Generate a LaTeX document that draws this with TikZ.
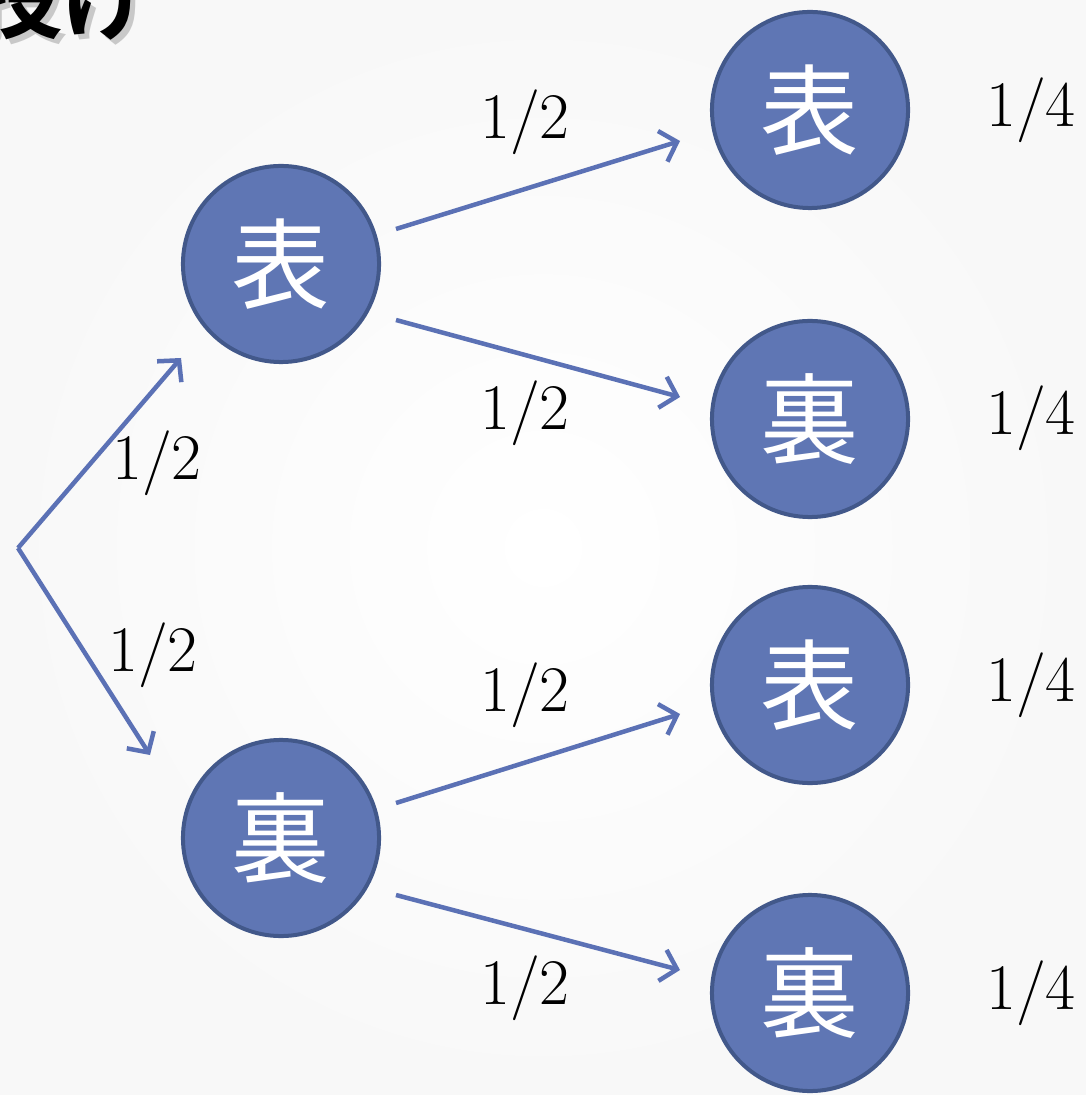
\documentclass[tikz,border=0pt]{standalone}
\usepackage{fontspec}
\newfontfamily\cjk{Noto Sans CJK JP}[BoldFont={Noto Sans CJK JP Bold}]
\usetikzlibrary{arrows.meta,calc}
\definecolor{nodefill}{HTML}{5F76B4}
\definecolor{nodeline}{HTML}{42588A}
\definecolor{arrowcol}{HTML}{5B71B5}
\definecolor{bggray}{HTML}{F8F8F8}
\tikzset{
  coin/.style={circle, fill=nodefill, draw=nodeline, line width=0.04cm,
    minimum size=1.96cm, inner sep=0pt, text=white,
    font=\cjk\fontsize{28}{32}\selectfont},
  prob/.style={font=\fontsize{18.5}{22}\selectfont, inner sep=0pt},
  branch/.style={draw=arrowcol, line width=0.045cm,
    -{Straight Barb[length=0.15cm,width=0.32cm]}},
  titletext/.style={anchor=south east, inner sep=0pt,
    font=\cjk\bfseries\fontsize{26}{28}\selectfont},
}
\begin{document}
\begin{tikzpicture}[x=0.01cm,y=-0.01cm]
\useasboundingbox (0,0) rectangle (1086,1095);
\shade[inner color=white, outer color=bggray] (0,0) rectangle (1086,1095);

% partially visible title (cut off at the top edge, as in the reference)
\node[titletext, text=black!40, opacity=0.5] (titleshadow) at (160,46) {投げ};
\node[titletext] (title) at (155,41) {投げ};

\coordinate (root) at (18,548);
\node[coin] (L1) at (281,264) {表};
\node[coin] (L2) at (281,838) {裏};
\node[coin] (R1) at (810,110) {表};
\node[coin] (R2) at (810,419) {裏};
\node[coin] (R3) at (810,685) {表};
\node[coin] (R4) at (810,993) {裏};

\draw[branch] (root) -- ($(L1)+(-100,94)$);
\draw[branch] (root) -- ($(L2)+(-131,-83)$);
\draw[branch] ($(L1)+(115,-35)$) -- ($(R1)+(-130,31)$);
\draw[branch] ($(L1)+(115,56)$) -- ($(R2)+(-130,-22)$);
\draw[branch] ($(L2)+(115,-35)$) -- ($(R3)+(-130,29)$);
\draw[branch] ($(L2)+(115,57)$) -- ($(R4)+(-130,-23)$);

\node[prob] (p1) at (157,463) {1/2};
\node[prob] (p2) at (153,655) {1/2};
\node[prob] (p3) at (525,122) {1/2};
\node[prob] (p4) at (525,413) {1/2};
\node[prob] (p5) at (525,695) {1/2};
\node[prob] (p6) at (525,988) {1/2};
\node[prob] (q1) at (1031,110) {1/4};
\node[prob] (q2) at (1031,418) {1/4};
\node[prob] (q3) at (1031,685) {1/4};
\node[prob] (q4) at (1031,993) {1/4};
\end{tikzpicture}
\end{document}
